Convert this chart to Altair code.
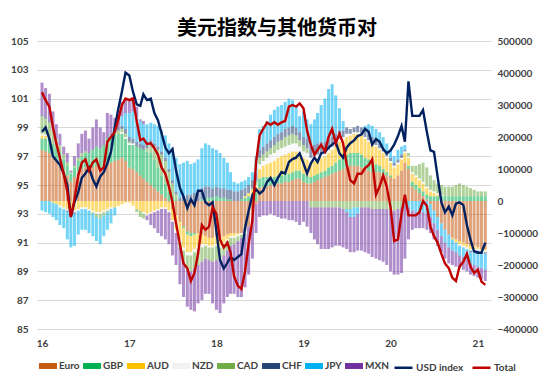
import altair as alt
import pandas as pd

# ---- data (values in thousands of contracts for the currencies / Total) ----
series_names = ["Euro", "GBP", "AUD", "NZD", "CAD", "CHF", "JPY", "MXN"]
series_colors = ["#C55A11", "#00B050", "#FFC000", "#F2F2F2", "#70AD47", "#264478", "#00B0F0", "#7030A0"]
line_names = ["USD index", "Total"]
line_colors = ["#002060", "#C00000"]

euro = [160, 155, 150, 135, 125, 110, 95, 80, 60, 75, 90, 100, 105, 100, 105, 110, 100, 105, 115, 120, 125, 130, 135, 125,
        105, 100, 90, 80, 70, 60, 50, 40, 30, 20, 10, -5, -25, -45, -65, -80, -95, -100, -100, -100, -105, -110, -115, -115,
        -110, -115, -110, -105, -100, -100, -100, -100, -95, -80, -50, -10, 40, 45, 45, 50, 50, 55, 55, 60, 60, 65, 70, 70,
        60, 55, 55, 60, 65, 70, 75, 80, 85, 90, 95, 100, 105, 110, 110, 110, 105, 100, 95, 90, 90, 90, 85, 80, 75, 70,
        80, 95, 120, 100, 45, 35, 25, 15, 5, -10, -30, -50, -70, -90, -105, -115, -120, -125, -130, -135, -140, -140, -145, -150, -150]
gbp = [35, 40, 45, 45, 40, 40, 35, 30, 25, 30, 35, 40, 45, 50, 55, 60, 65, 70, 80, 85, 85, 80, 75, 70,
       70, 75, 80, 85, 90, 95, 100, 90, 75, 60, 45, 30, 15, 5, 0, -5, -10, -10, -5, 0, 5, 10, 10, 10,
       15, 10, 10, 5, 5, 0, 0, 5, 10, 15, 20, 25, 30, 30, 30, 25, 25, 25, 25, 25, 25, 25, 25, 25,
       25, 25, 20, 20, 20, 20, 20, 25, 25, 30, 35, 35, 40, 40, 40, 40, 40, 35, 35, 30, 25, 20, 15, 10, 5, 0,
       0, 0, 0, 10, 15, 15, 15, 15, 15, 15, 15, 15, 15, 15, 15, 15, 15, 15, 15, 15, 15, 15, 15, 15, 15]
aud = [10, 8, 5, -5, -10, -15, -20, -25, -25, -30, -25, -20, -20, -25, -30, -35, -35, -30, -25, -20, -20, -15, -10, -5,
       -5, -15, -25, -30, -35, -40, -35, -30, -25, -20, -20, -25, -35, -45, -55, -60, -55, -50, -45, -40, -30, -25, -25, -25,
       -25, -25, -20, -15, -10, -10, -5, 0, 5, 10, 15, 20, 30, 35, 40, 45, 50, 55, 60, 60, 65, 65, 60, 55,
       50, 50, 45, 45, 45, 45, 45, 45, 50, 50, 55, 55, 55, 55, 60, 60, 60, 60, 55, 55, 55, 50, 50, 45, 40, 35,
       35, 35, 30, 25, 25, 25, 25, 25, 20, 15, 10, 5, 0, 0, 0, -5, -10, -10, -10, -10, -10, -10, -5, -5, -5]
nzd = [5, 5, 0, 0, 0, -5, -5, -5, -5, -5, -5, -5, -5, -5, -5, -5, -5, -5, -5, -5, 0, 0, 5, 5,
       5, 5, 0, 0, -5, -5, -5, -5, -5, -5, -5, -5, -5, -10, -10, -10, -10, -10, -10, -10, -10, -5, -5, -5,
       -5, -5, -5, -5, -5, -5, -5, -5, -5, 0, 0, 5, 15, 15, 20, 25, 25, 25, 25, 25, 25, 25, 25, 20,
       20, 20, 15, 15, 15, 15, 10, 10, 10, 10, 10, 10, 10, 5, 5, 5, 5, 5, 5, 5, 5, 5, 5, 5, 5, 5,
       5, 5, 5, 5, 5, 5, 5, 5, 5, 5, 5, 5, 5, 0, 0, 0, 0, -5, -5, -5, -5, -5, -5, -5, -5]
cad = [55, 50, 45, 40, 30, 25, 15, 10, 5, 5, 10, 10, 5, 0, -5, -10, -15, -10, -5, 0, 5, 10, 10, 10,
       5, 0, -10, -20, -15, 10, 25, 40, 55, 65, 70, 60, 40, 15, -15, -35, -45, -50, -50, -50, -45, -40, -40, -45,
       -45, -40, -35, -30, -25, -20, -15, -10, -5, 0, 5, 10, 20, 20, 20, 20, 25, 25, 25, 30, 30, 30, 25, 20,
       20, 15, -20, -20, -20, -20, -20, -20, -20, -20, -20, -25, -25, -25, -20, -20, -20, -20, -20, -25, -25, -25, -25, -25, -30, -30,
       -25, -20, -10, 10, 20, 30, 45, 60, 60, 45, 35, 30, 30, 30, 30, 30, 35, 40, 35, 30, 25, 20, 15, 15, 15]
chf = [5, 5, 5, 0, 0, 0, 0, -5, -5, -5, 0, 0, 0, 0, 0, 0, 0, 0, 5, 5, 10, 10, 10, 15,
       15, 15, 15, 15, 15, 15, 15, 10, 10, 10, 10, 10, 10, 10, 10, 15, 20, 20, 25, 30, 35, 35, 35, 30,
       30, 30, 30, 30, 30, 30, 30, 30, 25, 25, 25, 25, 25, 25, 25, 25, 25, 25, 25, 25, 25, 25, 25, 25,
       25, 30, 35, 35, 35, 35, 35, 35, 30, 30, 25, 20, 20, 15, 15, 20, 20, 20, 20, 20, 15, 15, 10, 10, 10, 10,
       10, 10, 5, 0, 0, 0, 0, 0, 0, 0, 0, 0, 0, 0, 0, 0, 0, 0, 0, 0, -5, -5, -5, -5, -5]
jpy = [-30, -35, -40, -45, -50, -55, -60, -85, -110, -100, -75, -65, -65, -70, -70, -75, -80, -65, -55, -45, -25, 0, 30, 50,
       75, 85, 80, 70, 65, 60, 55, 60, 65, 65, 70, 80, 95, 105, 105, 105, 105, 95, 95, 100, 125, 135, 130, 125,
       115, 110, 95, 85, 55, 30, 25, 25, 25, 25, 25, 55, 65, 65, 70, 80, 85, 85, 85, 85, 90, 80, 70, 50,
       80, 60, 70, 80, 95, 115, 135, 155, 165, 120, 70, 30, -10, -25, -30, -20, 0, 15, 30, 35, 35, 35, 35, 30, 25, 20,
       30, 25, 15, -20, -30, -35, -35, -35, -40, -40, -40, -40, -40, -40, -40, -35, -30, -30, -30, -30, -35, -40, -45, -45, -50]
mxn = [100, 90, 85, 60, 45, 35, 25, 30, 5, 30, 45, 60, 65, 45, 70, 85, 65, 40, 75, 60, 35, 40, 45, 45,
       45, 45, 30, 5, 10, -15, -35, -50, -70, -85, -95, -100, -105, -100, -115, -110, -115, -120, -135, -120, -120, -110, -105, -130,
       -155, -165, -150, -145, -150, -155, -175, -185, -165, -150, -130, -90, -50, -45, -45, -40, -45, -50, -55, -55, -60, -60, -65, -75,
       -65, -80, -80, -100, -115, -130, -130, -130, -125, -120, -120, -120, -115, -110, -110, -115, -135, -140, -145, -150, -155, -160, -165, -175, -190, -200,
       -205, -205, -170, -100, -60, -50, -50, -50, -50, -50, -50, -50, -50, -50, -50, -45, -45, -40, -40, -40, -35, -35, -35, -35, -35]

usd_index = [98.7, 99.0, 98.2, 97.0, 96.7, 96.4, 95.8, 95.0, 92.8, 93.8, 94.5, 95.5, 95.8, 96.2, 95.4, 94.9, 95.6, 95.9, 96.5, 97.3, 99.0, 100.3, 101.5, 102.8,
             102.6, 101.5, 100.6, 100.5, 101.3, 100.9, 101.0, 100.0, 99.5, 98.6, 97.6, 97.2, 97.5, 96.0, 94.8, 94.2, 93.4, 94.0, 93.6, 94.6, 94.6, 93.8, 93.6, 93.8,
             91.8, 89.8, 89.2, 89.6, 90.0, 89.8, 90.0, 90.2, 92.0, 93.2, 94.3, 94.7, 94.4, 94.6, 95.2, 95.5, 95.0, 95.5, 95.9, 95.8, 96.6, 96.8, 96.9, 97.2,
             96.5, 95.8, 96.5, 96.9, 96.6, 97.2, 97.3, 97.6, 97.8, 98.0, 97.2, 96.9, 97.6, 97.9, 98.1, 98.4, 98.5, 98.9, 98.7, 97.8, 98.2, 98.0, 97.5, 97.2, 97.4, 97.8,
             98.4, 99.1, 98.0, 102.2, 99.8, 99.8, 99.8, 100.2, 98.7, 97.4, 97.3, 95.6, 93.8, 93.1, 93.5, 92.9, 93.7, 93.8, 93.6, 92.2, 91.2, 90.4, 90.3, 90.3, 91.0]
total = [340, 315, 295, 230, 180, 135, 85, 30, -50, 5, 80, 120, 130, 95, 120, 130, 95, 105, 185, 200, 215, 255, 300, 320,
         315, 320, 250, 190, 195, 178, 180, 165, 145, 105, 85, 45, -5, -70, -135, -195, -210, -250, -225, -165, -75, -90, -80, -20,
         -40, -120, -145, -130, -160, -235, -265, -275, -220, -135, -60, 120, 205, 225, 245, 238, 246, 238, 246, 250, 295, 300, 295, 305,
         290, 220, 175, 145, 160, 175, 155, 200, 225, 180, 210, 180, 115, 65, 55, 85, 85, 103, 112, 130, 20, 45, 80, 45, -20, -125,
         -120, -40, 20, -45, -45, -45, -35, 0, -15, -80, -110, -130, -165, -195, -210, -240, -250, -205, -190, -165, -205, -225, -215, -252, -262]

# semi-monthly observation dates (1st and 16th of each month), Jan 2016 - Feb 2021
dates = [pd.Timestamp(year=2016 + i // 24, month=(i % 24) // 2 + 1, day=1 if i % 2 == 0 else 16)
         for i in range(len(total))]

# ---- tables ----
rows = []
for k, (name, vals) in enumerate(zip(series_names, [euro, gbp, aud, nzd, cad, chf, jpy, mxn])):
    for d, v in zip(dates, vals):
        rows.append({"date": d, "series": name, "k": k, "value": v * 1000})
bars_df = pd.DataFrame(rows)
usd_df = pd.DataFrame({"date": dates, "value": usd_index, "name": "USD index"})
total_df = pd.DataFrame({"date": dates, "value": [v * 1000 for v in total], "name": "Total"})

FONT = "Lato"
x_dom = [alt.DateTime(year=2016, month=1, date=1), alt.DateTime(year=2021, month=2, date=4)]
x_vals = [alt.DateTime(year=y, month=1, date=1) for y in range(2016, 2022)]
x_enc = alt.X("date:T", scale=alt.Scale(domain=x_dom),
              axis=alt.Axis(values=x_vals, format="%y", title=None, grid=False, ticks=False,
                            domain=False, labelPadding=9))

bars = alt.Chart(bars_df).mark_bar(size=3.0, opacity=0.55).encode(
    x=x_enc,
    y=alt.Y("value:Q", stack="zero",
            scale=alt.Scale(domain=[-400000, 500000], nice=False),
            axis=alt.Axis(orient="right", values=list(range(-400000, 500001, 100000)), format="d",
                          title=None, grid=False, ticks=False, domain=False, labelPadding=6,
                          labelAlign="left")),
    color=alt.Color("series:N", scale=alt.Scale(domain=series_names, range=series_colors),
                    legend=alt.Legend(title=None, orient="none", legendX=2, legendY=316,
                                      direction="horizontal", columns=8,
                                      symbolType="M-1,-0.33H1V0.33H-1Z", symbolSize=324,
                                      symbolOpacity=1, symbolStrokeWidth=0,
                                      labelOffset=2, columnPadding=3)),
    order=alt.Order("k:Q", sort="ascending"),
)

usd_line = alt.Chart(usd_df).mark_line(strokeWidth=2.4).encode(
    x=x_enc,
    y=alt.Y("value:Q", scale=alt.Scale(domain=[85, 105], nice=False),
            axis=alt.Axis(orient="left", values=list(range(85, 106, 2)), format="d", title=None,
                          grid=True, gridColor="#D9D9D9", gridWidth=1, ticks=False, domain=False,
                          labelPadding=9)),
    stroke=alt.Stroke("name:N", scale=alt.Scale(domain=line_names, range=line_colors),
                      legend=alt.Legend(title=None, orient="none", legendX=356, legendY=316,
                                        direction="horizontal", columns=2,
                                        symbolType="stroke", symbolSize=324, symbolStrokeWidth=2.5,
                                        labelOffset=2, columnPadding=3)),
)

total_line = alt.Chart(total_df).mark_line(strokeWidth=2.4).encode(
    x=x_enc,
    y=alt.Y("value:Q", scale=alt.Scale(domain=[-400000, 500000], nice=False), axis=None),
    stroke=alt.Stroke("name:N", scale=alt.Scale(domain=line_names, range=line_colors)),
)

chart = alt.layer(bars, usd_line, total_line).resolve_scale(y="independent").properties(
    width=454, height=288,
    autosize=alt.AutoSizeParams(type="none"),
    padding={"left": 29, "top": 33, "right": 51, "bottom": 48},
    title=alt.TitleParams("美元指数与其他货币对", font="Noto Sans CJK SC", fontSize=20,
                          fontWeight="bold", color="#000000", anchor="middle", frame="group",
                          offset=3, dx=13, dy=6),
).configure(background="#FFFFFF").configure_view(stroke=None).configure_axis(
    labelFont=FONT, labelFontSize=10, labelFontWeight="bold", labelColor="#404040"
).configure_legend(
    labelFont=FONT, labelFontSize=10, labelFontWeight="bold", labelColor="#404040", padding=0
)

chart.save("out.html", embed_options={"renderer": "svg", "actions": False})
